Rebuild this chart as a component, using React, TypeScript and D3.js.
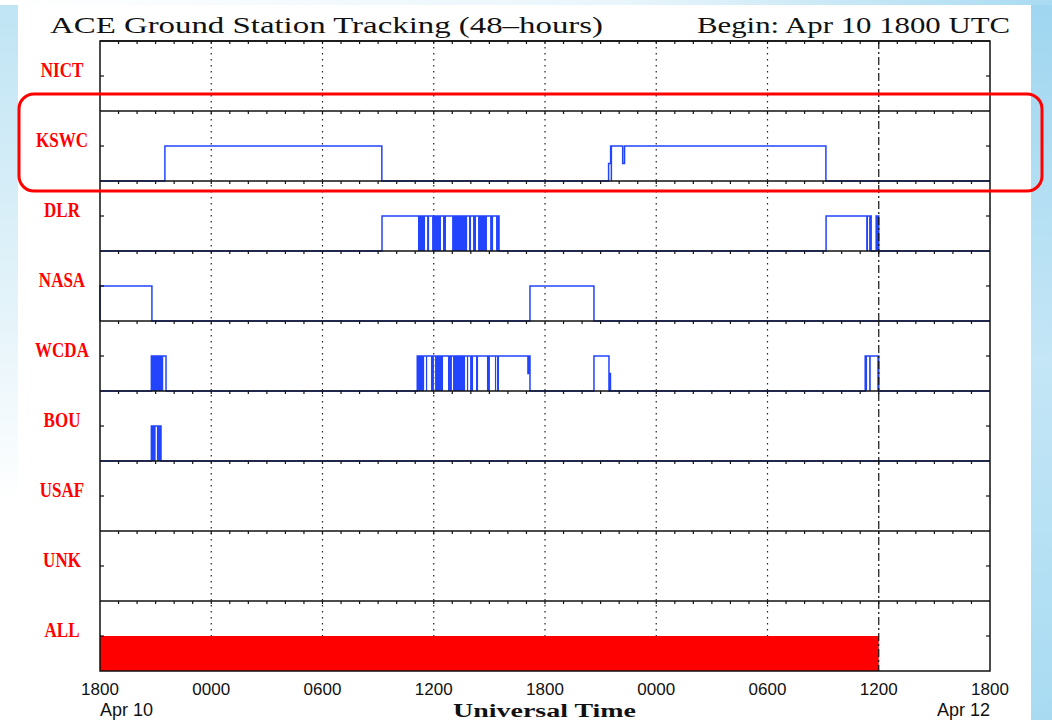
import * as d3 from 'd3';
import { useEffect, useRef } from 'react';

const width = 1052;
const height = 720;

const stations = ['NICT', 'KSWC', 'DLR', 'NASA', 'WCDA', 'BOU', 'USAF', 'UNK', 'ALL'];
const tickLabels = ['1800', '0000', '0600', '1200', '1800', '0000', '0600', '1200', '1800'];

// step changes: [hours since Apr 10 1800, level]
const nictSteps: [number, number][] = [];
const kswcSteps: [number, number][] = [
  [3.5, 1], [15.2, 0], [27.43, 0.5], [27.54, 1], [28.19, 0.5], [28.29, 1], [39.15, 0],
];
const dlrSteps: [number, number][] = [
  [15.21, 1], [21.52, 0], [39.16, 1], [41.59, 0], [41.86, 1], [42.0, 0],
];
const nasaSteps: [number, number][] = [
  [0, 1], [2.8, 0], [23.19, 1], [26.64, 0],
];
const wcdaSteps: [number, number][] = [
  [2.77, 1], [3.56, 0], [17.11, 1], [23.08, 0.5], [23.12, 1], [23.19, 0],
  [26.64, 1], [27.45, 0], [27.49, 0.5], [27.53, 0], [41.27, 1], [42.0, 0],
];
const bouSteps: [number, number][] = [[2.77, 1], [3.29, 0]];
const usafSteps: [number, number][] = [];
const unkSteps: [number, number][] = [];

// spans of rapid dropouts (drawn solid)
const kswcDense: [number, number][] = [[27.54, 27.62]];
const dlrDense: [number, number][] = [
  [17.15, 17.53], [17.64, 17.75], [17.91, 18.39], [18.5, 18.66], [18.99, 19.8],
  [19.9, 20.01], [20.12, 20.28], [20.39, 20.87], [21.04, 21.2], [21.36, 21.52],
  [41.32, 41.42], [41.48, 41.59], [41.86, 42.0],
];
const wcdaDense: [number, number][] = [
  [2.77, 3.41], [17.11, 17.48], [17.58, 17.64], [17.85, 18.01], [18.07, 18.5],
  [18.77, 18.98], [19.04, 19.69], [19.79, 19.85], [19.96, 20.12], [20.28, 20.39],
  [20.87, 21.03], [21.3, 21.34], [21.41, 21.52], [41.27, 41.37], [41.48, 41.57], [41.92, 42.0],
];
const bouDense: [number, number][] = [[2.77, 3.0], [3.07, 3.29]];
const allCoverage: [number, number][] = [[0, 42]];

const stepsByStation = [nictSteps, kswcSteps, dlrSteps, nasaSteps, wcdaSteps, bouSteps, usafSteps, unkSteps, []];
const denseByStation = [[], kswcDense, dlrDense, [], wcdaDense, bouDense, [], [], []];

const nowHour = 42;

const App = () => {
  const svgRef = useRef<SVGSVGElement>(null);

  useEffect(() => {
    const svg = d3.select(svgRef.current).attr('width', width).attr('height', height);
    svg.selectAll('*').remove();

    const left = 100;
    const right = 990;
    const top = 41;
    const rowH = 70;
    const bottom = top + rowH * stations.length;
    const blue = '#2244ff';

    const x = d3.scaleLinear().domain([0, 48]).range([left, right]);

    // page background
    const defs = svg.append('defs');
    const gl = defs.append('linearGradient').attr('id', 'lg').attr('x1', 0).attr('y1', 0).attr('x2', 0).attr('y2', 1);
    gl.append('stop').attr('offset', 0).attr('stop-color', '#bfe4f4');
    gl.append('stop').attr('offset', 0.45).attr('stop-color', '#e6f4fa');
    gl.append('stop').attr('offset', 0.7).attr('stop-color', '#ffffff');
    const gr = defs.append('linearGradient').attr('id', 'rg').attr('x1', 0).attr('y1', 0).attr('x2', 0).attr('y2', 1);
    gr.append('stop').attr('offset', 0).attr('stop-color', '#9fd6f0');
    gr.append('stop').attr('offset', 0.5).attr('stop-color', '#c4e6f6');
    gr.append('stop').attr('offset', 1).attr('stop-color', '#a8dbf2');
    const gt = defs.append('linearGradient').attr('id', 'tg').attr('x1', 0).attr('y1', 0).attr('x2', 1).attr('y2', 0);
    gt.append('stop').attr('offset', 0).attr('stop-color', '#ffffff');
    gt.append('stop').attr('offset', 0.6).attr('stop-color', '#e8f5fb');
    gt.append('stop').attr('offset', 1).attr('stop-color', '#a9dbf2');

    svg.append('rect').attr('width', width).attr('height', height).attr('fill', '#ffffff');
    svg.append('rect').attr('x', 0).attr('y', 0).attr('width', 18).attr('height', height).attr('fill', 'url(#lg)');
    svg.append('rect').attr('x', 1031).attr('y', 0).attr('width', 21).attr('height', height).attr('fill', 'url(#rg)');
    svg.append('rect').attr('x', 0).attr('y', 0).attr('width', width).attr('height', 5).attr('fill', 'url(#tg)');

    // plot area
    svg.append('rect').attr('x', left).attr('y', top).attr('width', right - left).attr('height', bottom - top).attr('fill', '#fff');

    // dotted 6-hour lines
    svg.append('g')
      .selectAll('line')
      .data([6, 12, 18, 24, 30, 36])
      .join('line')
      .attr('x1', (d) => x(d)).attr('x2', (d) => x(d))
      .attr('y1', top).attr('y2', bottom)
      .attr('stroke', '#222').attr('stroke-width', 1.2)
      .attr('stroke-dasharray', '1.5,4.5');

    stations.forEach((name, i) => {
      const rowTop = top + i * rowH;
      const y = d3.scaleLinear().domain([0, 2]).range([rowTop + rowH, rowTop]);
      const g = svg.append('g');

      const steps = stepsByStation[i];
      if (steps.length) {
        let p = `M${x(0)},${y(0)}`;
        steps.forEach(([h, l]) => {
          p += `H${x(h)}V${y(l)}`;
        });
        p += `H${x(48)}`;
        g.append('path').attr('d', p).attr('fill', 'none').attr('stroke', blue).attr('stroke-width', 1.5);
      }

      g.selectAll('rect.dense')
        .data(denseByStation[i])
        .join('rect')
        .attr('class', 'dense')
        .attr('x', (d) => x(d[0]))
        .attr('width', (d) => Math.max(1.2, x(d[1]) - x(d[0])))
        .attr('y', y(1))
        .attr('height', y(0) - y(1))
        .attr('fill', blue);

      if (name === 'ALL') {
        g.selectAll('rect.all')
          .data(allCoverage)
          .join('rect')
          .attr('class', 'all')
          .attr('x', (d) => x(d[0]))
          .attr('width', (d) => x(d[1]) - x(d[0]))
          .attr('y', y(1))
          .attr('height', y(0) - y(1))
          .attr('fill', '#ff0000');
      }

      // row top border with hourly ticks
      g.append('line')
        .attr('x1', left).attr('x2', right)
        .attr('y1', rowTop).attr('y2', rowTop)
        .attr('stroke', '#111').attr('stroke-width', 1.5);
      g.selectAll('line.tick')
        .data(d3.range(1, 48))
        .join('line')
        .attr('class', 'tick')
        .attr('x1', (d) => x(d)).attr('x2', (d) => x(d))
        .attr('y1', rowTop).attr('y2', rowTop + 3)
        .attr('stroke', '#111').attr('stroke-width', 1.2);

      // mid-level ticks on both sides
      g.append('line').attr('x1', left).attr('x2', left + 4).attr('y1', y(1)).attr('y2', y(1)).attr('stroke', '#111').attr('stroke-width', 1.2);
      g.append('line').attr('x1', right - 4).attr('x2', right).attr('y1', y(1)).attr('y2', y(1)).attr('stroke', '#111').attr('stroke-width', 1.2);

      g.append('text')
        .attr('transform', `translate(62,${rowTop + 36}) scale(0.85,1)`)
        .attr('text-anchor', 'middle')
        .attr('font-family', 'Liberation Serif, serif')
        .attr('font-weight', 'bold')
        .attr('font-size', 20)
        .attr('fill', '#ff0000')
        .text(name);
    });

    // outer frame
    svg.append('rect')
      .attr('x', left).attr('y', top)
      .attr('width', right - left).attr('height', bottom - top)
      .attr('fill', 'none').attr('stroke', '#111').attr('stroke-width', 1.5);

    // current time
    svg.append('line')
      .attr('x1', x(nowHour)).attr('x2', x(nowHour))
      .attr('y1', top).attr('y2', bottom)
      .attr('stroke', '#111').attr('stroke-width', 1.2)
      .attr('stroke-dasharray', '8,3,2,3');

    // x tick labels
    svg.append('g')
      .selectAll('text')
      .data(tickLabels)
      .join('text')
      .attr('x', (_, i) => x(i * 6))
      .attr('y', 695)
      .attr('text-anchor', 'middle')
      .attr('font-family', 'Liberation Sans, sans-serif')
      .attr('font-size', 17)
      .attr('fill', '#111')
      .text((d) => d);

    svg.append('text').attr('x', left).attr('y', 716)
      .attr('font-family', 'Liberation Sans, sans-serif').attr('font-size', 18).attr('fill', '#111')
      .text('Apr 10');
    svg.append('text').attr('x', right).attr('y', 716).attr('text-anchor', 'end')
      .attr('font-family', 'Liberation Sans, sans-serif').attr('font-size', 18).attr('fill', '#111')
      .text('Apr 12');
    svg.append('text').attr('x', 453).attr('y', 717)
      .attr('font-family', 'Liberation Serif, serif').attr('font-weight', 'bold').attr('font-size', 18).attr('fill', '#111')
      .attr('textLength', 183).attr('lengthAdjust', 'spacingAndGlyphs')
      .text('Universal Time');

    // title
    svg.append('text').attr('x', 50).attr('y', 33)
      .attr('font-family', 'Liberation Serif, serif').attr('font-size', 24).attr('fill', '#111')
      .attr('textLength', 553).attr('lengthAdjust', 'spacingAndGlyphs')
      .text('ACE Ground Station Tracking (48\u2013hours)');
    svg.append('text').attr('x', 697).attr('y', 33)
      .attr('font-family', 'Liberation Serif, serif').attr('font-size', 24).attr('fill', '#111')
      .attr('textLength', 313).attr('lengthAdjust', 'spacingAndGlyphs')
      .text('Begin: Apr 10 1800 UTC');

    // highlight box around KSWC
    svg.append('rect')
      .attr('x', 19).attr('y', 94)
      .attr('width', 1023).attr('height', 97)
      .attr('rx', 15)
      .attr('fill', 'none').attr('stroke', '#ff0000').attr('stroke-width', 3);
  }, []);

  return <svg ref={svgRef} style={{ position: 'absolute', left: 0, top: 0 }}></svg>;
};

export default App;
